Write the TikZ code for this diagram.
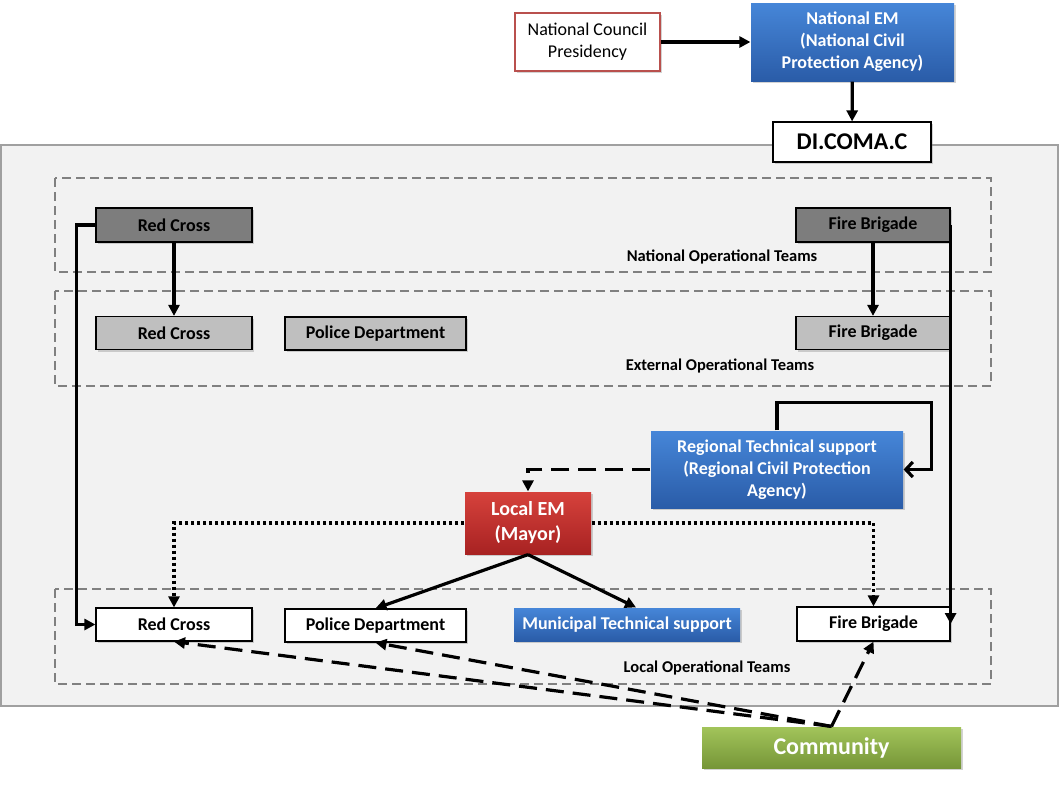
\documentclass[tikz,border=0pt]{standalone}
\usepackage{fontspec}
\setmainfont{Carlito}
\usepackage{tikz}
\usetikzlibrary{arrows.meta,shadows}

\definecolor{panelgray}{RGB}{242,242,242}
\definecolor{panelline}{RGB}{160,160,160}
\definecolor{framegray}{RGB}{128,128,128}
\definecolor{natgray}{RGB}{125,125,125}
\definecolor{extgray}{RGB}{191,191,191}
\definecolor{ncpred}{RGB}{185,80,77}

\begin{document}
\begin{tikzpicture}[x=1pt, y=-1pt,
        box/.style={draw=black, line width=1.2pt, align=center, inner sep=0pt,
            font=\fontsize{18}{22}\selectfont\bfseries,
            drop shadow={opacity=0.35, shadow xshift=2pt, shadow yshift=-2pt}},
        natteam/.style={box, fill=natgray},
        extteam/.style={box, fill=extgray},
        localteam/.style={box, fill=white},
        bluebox/.style={box, draw=none, text=white, top color={rgb,255:red,70;green,134;blue,216}, bottom color={rgb,255:red,42;green,92;blue,168}},
        redbox/.style={box, draw=none, text=white, top color={rgb,255:red,214;green,66;blue,60}, bottom color={rgb,255:red,168;green,34;blue,34}},
        greenbox/.style={box, draw=none, text=white, top color={rgb,255:red,162;green,196;blue,90}, bottom color={rgb,255:red,118;green,150;blue,56}},
        teamframe/.style={draw=framegray, line width=2.5pt, dash pattern=on 9pt off 5pt},
        teamlabel/.style={font=\fontsize{16.5}{20}\selectfont\bfseries},
        link/.style={line width=3.2pt, -{Triangle[length=11pt,width=11pt]}},
        dashlink/.style={link, dash pattern=on 18pt off 9pt},
        dotlink/.style={link, dash pattern=on 3pt off 3pt}]
        \useasboundingbox (0,0) rectangle (1060,785);

        % grey panel behind the teams
        \draw[fill=panelgray, draw=panelline, line width=1.5pt] (1,145) rectangle (1058,706);

        \draw[teamframe] (55,178) rectangle (991,272);
        \draw[teamframe] (55,291) rectangle (991,386);
        \draw[teamframe] (55,589) rectangle (991,684);
        \node[teamlabel] (natlabel) at (722,257) {National Operational Teams};
        \node[teamlabel] (extlabel) at (720,366) {External Operational Teams};
        \node[teamlabel] (loclabel) at (707,668) {Local Operational Teams};

        \node[box, fill=white, draw=ncpred, line width=2.5pt, minimum width=145, minimum height=58, font=\fontsize{18}{22}\selectfont] (ncp) at (587.5,42) {National Council\\Presidency};
        \node[bluebox, minimum width=203, minimum height=78] (nem) at (852.5,42) {National EM\\(National Civil\\Protection Agency)};
        \node[box, fill=white, minimum width=158, minimum height=40, font=\fontsize{24}{28}\selectfont\bfseries] (dic) at (852,142) {DI.COMA.C};

        \node[natteam, minimum width=156, minimum height=34] (rcn) at (174,225) {Red Cross};
        \node[natteam, minimum width=154, minimum height=34] (fbn) at (873,225) {Fire Brigade};
        \node[extteam, minimum width=156, minimum height=33] (rce) at (174,333) {Red Cross};
        \node[extteam, minimum width=181, minimum height=33] (pde) at (375.5,333.5) {Police Department};
        \node[extteam, minimum width=154, minimum height=33] (fbe) at (873,333) {Fire Brigade};

        \node[bluebox, minimum width=252, minimum height=77] (rts) at (777,469.5) {Regional Technical support\\(Regional Civil Protection\\Agency)};
        \node[redbox, minimum width=126, minimum height=62, font=\fontsize{20}{25}\selectfont\bfseries] (lem) at (528,523) {Local EM\\(Mayor)};

        \node[localteam, minimum width=156, minimum height=33] (rcl) at (174,624.5) {Red Cross};
        \node[localteam, minimum width=181, minimum height=33] (pdl) at (375.5,625.5) {Police Department};
        \node[bluebox, minimum width=226, minimum height=33] (mts) at (627,624.5) {Municipal Technical support};
        \node[localteam, minimum width=153, minimum height=34] (fbl) at (873.5,624) {Fire Brigade};

        \node[greenbox, minimum width=259, minimum height=41, font=\fontsize{24}{28}\selectfont\bfseries] (com) at (831.5,747.5) {Community};

        \draw[link] (ncp) -- (nem);
        \draw[link] (nem) -- (dic);
        \draw[link] (rcn) -- (rce);
        \draw[link] (fbn) -- (fbe);
        \draw[link] (rcn.west) -- ++(-19,0) |- (rcl.west);
        \draw[link] (fbn.east) -- (fbl.east);
        \draw[line width=3.2pt, -{Straight Barb[length=7pt,width=15pt]}] (rts.north) -- ++(0,-28) -| ([xshift=28pt]rts.east) -- (rts.east);
        \draw[dashlink] (rts.west) -| (lem.north);
        \draw[dotlink] (lem.west) -| (rcl.north);
        \draw[dotlink] (lem.east) -| (fbl.north);
        \draw[link] (lem.south) -- (pdl.north);
        \draw[link] (lem.south) -- ([xshift=9pt]mts.north);
        \draw[dashlink] (com.north) -- (rcl.south);
        \draw[dashlink] (com.north) -- (pdl.south);
        \draw[dashlink] (com.north) -- (fbl.south);
    \end{tikzpicture}
\end{document}
